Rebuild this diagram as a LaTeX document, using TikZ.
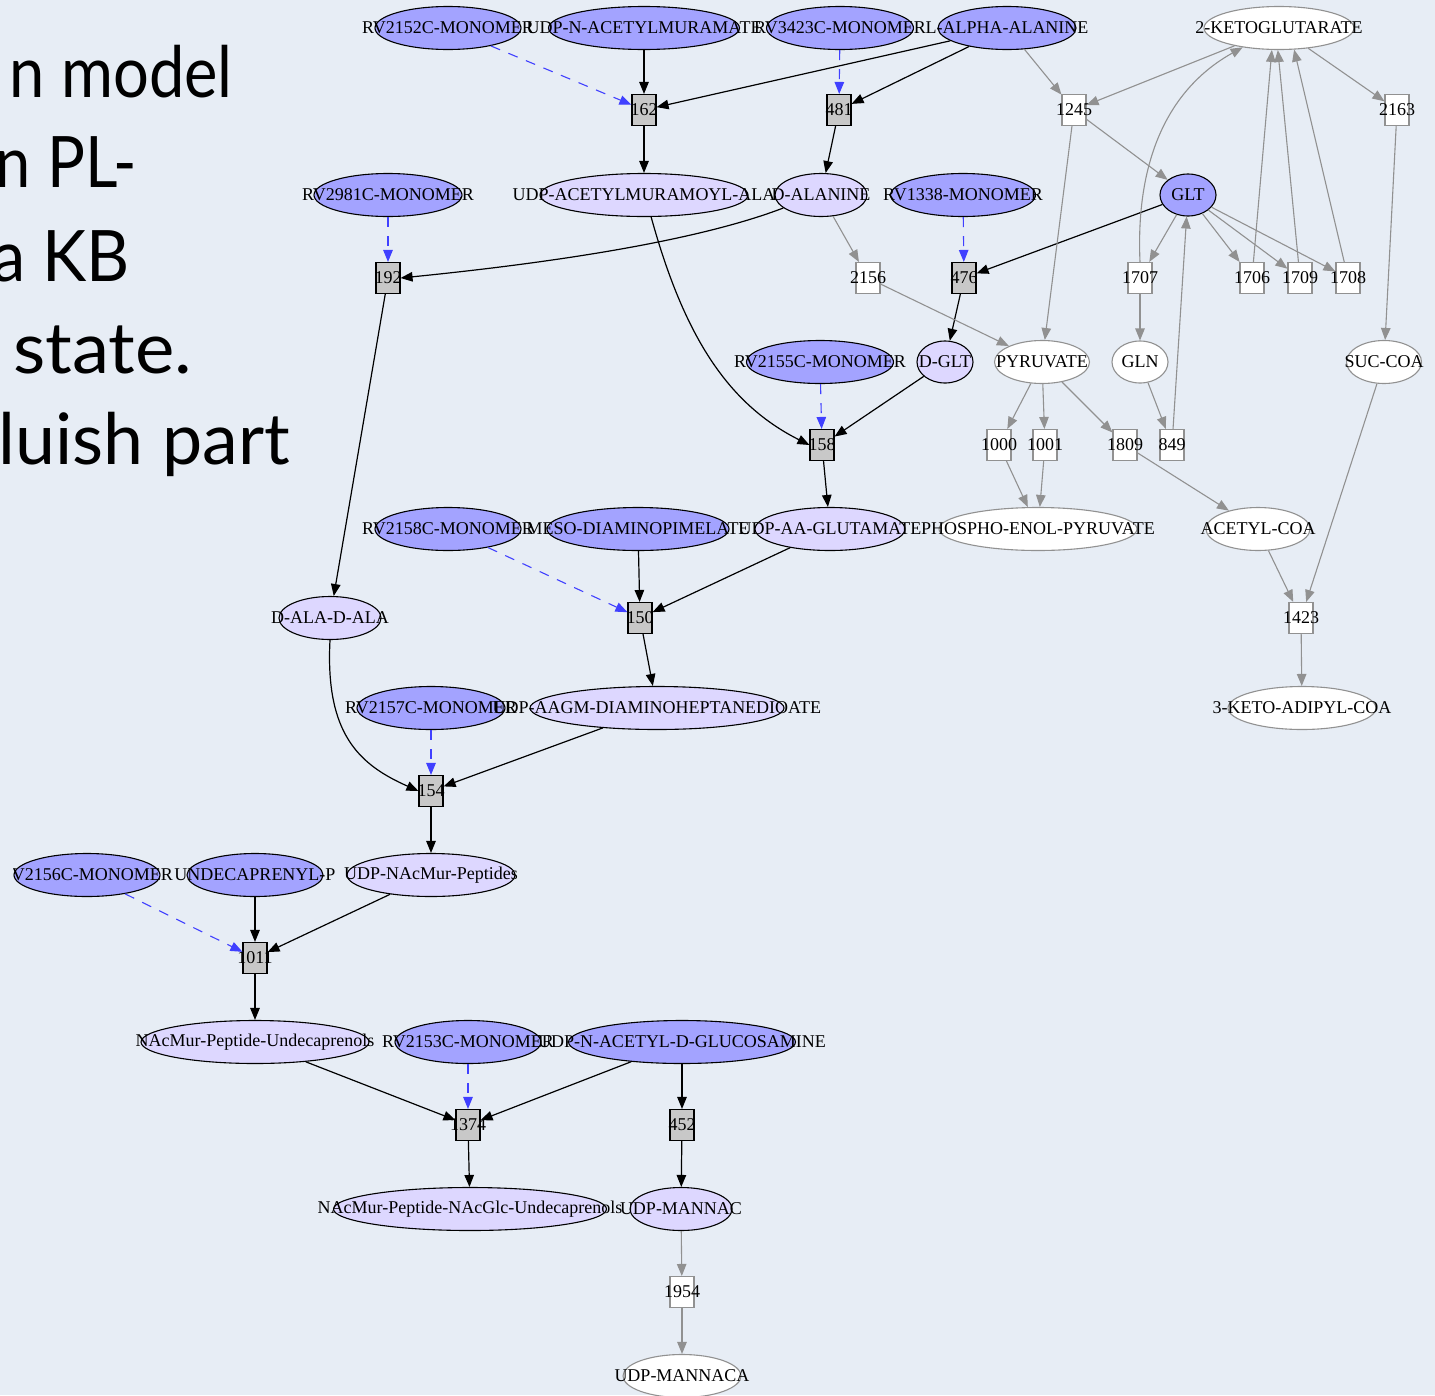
\documentclass[tikz,border=0pt]{standalone}
\usepackage{fontspec}
\setmainfont{Liberation Serif}
\newfontfamily\handfont{Lato}
\usetikzlibrary{shapes.geometric,arrows.meta}

\definecolor{paper}{RGB}{231,237,245}
\definecolor{enzfill}{RGB}{163,163,255}
\definecolor{metfill}{RGB}{221,215,255}
\definecolor{rxnfill}{RGB}{200,200,200}
\definecolor{enzedge}{RGB}{64,64,255}
\definecolor{sideedge}{RGB}{145,145,145}

\tikzset{
  lbl/.style={font=\fontsize{18}{20}\selectfont, inner sep=0pt},
  nm/.style={label={[lbl]center:#1}},
  cpd/.style={ellipse, draw=black, line width=1.1pt, minimum height=43pt, inner sep=0pt},
  enz/.style={cpd, fill=enzfill},
  met/.style={cpd, fill=metfill},
  ext/.style={cpd, draw=sideedge, fill=white},
  rxn/.style={rectangle, draw=black, line width=1.1pt, fill=rxnfill,
              minimum width=24pt, minimum height=31pt, inner sep=0pt},
  xrx/.style={rxn, draw=sideedge, fill=white},
  tip/.style={-{Triangle[length=12pt,width=9.5pt]}},
  flow/.style={draw=black, line width=1.2pt, tip},
  cat/.style={draw=enzedge, line width=1.1pt, dash pattern=on 10pt off 9pt, tip},
  side/.style={draw=sideedge, line width=1.1pt, tip},
  hand/.style={inner sep=0pt, font=\handfont\fontsize{71}{71}\selectfont},
}

\begin{document}
\begin{tikzpicture}[x=1pt,y=-1pt]
\useasboundingbox (0,0) rectangle (1435,1395);
\fill[paper] (0,0) rectangle (1435,1395);
\clip (0,0) rectangle (1435,1395);

% slide text on the left
\node[hand, anchor=base east] (t1) at (233,97) {\scalebox{0.89}[1]{n model}};
\node[hand, anchor=base east] (t2) at (137,187) {\scalebox{0.89}[1]{n PL-}};
\node[hand, anchor=base east] (t3) at (130,281) {\scalebox{0.94}[1]{a KB}};
\node[hand, anchor=base west] (t4) at (13,373) {\scalebox{1.05}[1]{state.}};
\node[hand, anchor=base east] (t5) at (290,464) {\scalebox{1.01}[1]{luish part}};

\begin{scope}
\clip (13,0) rectangle (1435,1395);

% ---- compounds, enzymes and reactions ----
\node[enz, minimum width=146pt, nm=RV2152C-MONOMER] (rv2152) at (448,28) {};
\node[enz, minimum width=191pt, nm=UDP-N-ACETYLMURAMATE] (umur) at (644,28) {};
\node[enz, minimum width=147pt, nm=RV3423C-MONOMER] (rv3423) at (840,28) {};
\node[enz, minimum width=138pt, nm=L-ALPHA-ALANINE] (lala) at (1007,28) {};
\node[ext, minimum width=150pt, nm=2-KETOGLUTARATE] (k2) at (1279,28) {};

\node[rxn, nm=162] (r162) at (644,110) {};
\node[rxn, nm=481] (r481) at (839,110) {};
\node[xrx, nm=1245] (r1245) at (1074,110) {};
\node[xrx, nm=2163] (r2163) at (1397,110) {};

\node[enz, minimum width=148pt, nm=RV2981C-MONOMER] (rv2981) at (388,195) {};
\node[met, minimum width=208pt, nm=UDP-ACETYLMURAMOYL-ALA] (uacm) at (644,195) {};
\node[met, minimum width=92pt, nm=D-ALANINE] (dala) at (821,195) {};
\node[enz, minimum width=145pt, nm=RV1338-MONOMER] (rv1338) at (963,195) {};
\node[enz, minimum width=56pt, minimum height=42pt, nm=GLT] (glt) at (1188,195) {};

\node[rxn, nm=192] (r192) at (388,278) {};
\node[xrx, nm=2156] (r2156) at (868,278) {};
\node[rxn, nm=476] (r476) at (964,278) {};
\node[xrx, nm=1707] (r1707) at (1140,278) {};
\node[xrx, nm=1706] (r1706) at (1252,278) {};
\node[xrx, nm=1709] (r1709) at (1300,278) {};
\node[xrx, nm=1708] (r1708) at (1348,278) {};

\node[enz, minimum width=147pt, nm=RV2155C-MONOMER] (rv2155) at (820,362) {};
\node[met, minimum width=56pt, minimum height=42pt, nm=D-GLT] (dglt) at (945,362) {};
\node[ext, minimum width=95pt, nm=PYRUVATE] (pyr) at (1042,362) {};
\node[ext, minimum width=56pt, minimum height=42pt, nm=GLN] (gln) at (1140,362) {};
\node[ext, minimum width=75pt, nm=SUC-COA] (suc) at (1384,362) {};

\node[rxn, nm=158] (r158) at (822,445) {};
\node[xrx, nm=1000] (r1000) at (999,445) {};
\node[xrx, nm=1001] (r1001) at (1045,445) {};
\node[xrx, nm=1809] (r1809) at (1125,445) {};
\node[xrx, nm=849] (r849) at (1172,445) {};

\node[enz, minimum width=146pt, nm=RV2158C-MONOMER] (rv2158) at (448,529) {};
\node[enz, minimum width=182pt, nm=MESO-DIAMINOPIMELATE] (meso) at (638,529) {};
\node[met, minimum width=150pt, nm=UDP-AA-GLUTAMATE] (uaag) at (830,529) {};
\node[ext, minimum width=198pt, nm=PHOSPHO-ENOL-PYRUVATE] (pep) at (1038,529) {};
\node[ext, minimum width=104pt, nm=ACETYL-COA] (acoa) at (1258,529) {};

\node[met, minimum width=102pt, nm=D-ALA-D-ALA] (dala2) at (330,618) {};
\node[rxn, nm=150] (r150) at (640,618) {};
\node[xrx, nm=1423] (r1423) at (1301,618) {};

\node[enz, minimum width=148pt, nm=RV2157C-MONOMER] (rv2157) at (431,708) {};
\node[met, minimum width=254pt, nm=UDP-AAGM-DIAMINOHEPTANEDIOATE] (uaagm) at (657,708) {};
\node[ext, minimum width=148pt, nm=3-KETO-ADIPYL-COA] (kac) at (1302,708) {};

\node[rxn, nm=154] (r154) at (431,791) {};

\node[enz, minimum width=146pt, nm=RV2156C-MONOMER] (rv2156) at (87,875) {};
\node[enz, minimum width=136pt, nm=UNDECAPRENYL-P] (undp) at (255,875) {};
\node[met, minimum width=168pt, nm=UDP-NAcMur-Peptides] (unmp) at (431,875) {};

\node[rxn, nm=1011] (r1011) at (255,958) {};

\node[met, minimum width=228pt, nm=NAcMur-Peptide-Undecaprenols] (nmpu) at (255,1042) {};
\node[enz, minimum width=146pt, nm=RV2153C-MONOMER] (rv2153) at (468,1042) {};
\node[enz, minimum width=227pt, nm=UDP-N-ACETYL-D-GLUCOSAMINE] (udgl) at (682,1042) {};

\node[rxn, nm=1374] (r1374) at (468,1125) {};
\node[rxn, nm=452] (r452) at (682,1125) {};

\node[met, minimum width=273pt, nm=NAcMur-Peptide-NAcGlc-Undecaprenols] (nmpng) at (470,1209) {};
\node[met, minimum width=102pt, nm=UDP-MANNAC] (umnc) at (681,1209) {};

\node[xrx, nm=1954] (r1954) at (682,1292) {};
\node[ext, minimum width=118pt, nm=UDP-MANNACA] (umnca) at (682,1376) {};

% ---- substrate / product flow ----
\draw[flow] (umur) -- (r162);
\draw[flow] (lala) -- (r162);
\draw[flow] (lala) -- (r481);
\draw[flow] (r162) -- (uacm);
\draw[flow] (r481) -- (dala);
\draw[flow] (dala.199) .. controls (700,240) and (560,262) .. (r192.east);
\draw[flow] (uacm.-72) .. controls (685,340) and (730,405) .. (r158.west);
\draw[flow] (glt) -- (r476);
\draw[flow] (r476) -- (dglt);
\draw[flow] (dglt) -- (r158);
\draw[flow] (r158) -- (uaag);
\draw[flow] (r192) -- (dala2);
\draw[flow] (meso) -- (r150);
\draw[flow] (uaag) -- (r150);
\draw[flow] (r150) -- (uaagm);
\draw[flow] (dala2.south) .. controls (325,735) and (360,765) .. (r154.west);
\draw[flow] (uaagm) -- (r154);
\draw[flow] (r154) -- (unmp);
\draw[flow] (undp) -- (r1011);
\draw[flow] (unmp) -- (r1011);
\draw[flow] (r1011) -- (nmpu);
\draw[flow] (nmpu) -- (r1374);
\draw[flow] (udgl) -- (r1374);
\draw[flow] (udgl) -- (r452);
\draw[flow] (r1374) -- (nmpng);
\draw[flow] (r452) -- (umnc);

% ---- catalysis ----
\draw[cat] (rv2152) -- (r162);
\draw[cat] (rv3423) -- (r481);
\draw[cat] (rv2981) -- (r192);
\draw[cat] (rv1338) -- (r476);
\draw[cat] (rv2155) -- (r158);
\draw[cat] (rv2158) -- (r150);
\draw[cat] (rv2157) -- (r154);
\draw[cat] (rv2156) -- (r1011);
\draw[cat] (rv2153) -- (r1374);

% ---- surrounding metabolism ----
\draw[side] (lala) -- (r1245);
\draw[side] (k2) -- (r1245);
\draw[side] (k2) -- (r2163);
\draw[side] (r1245) -- (glt);
\draw[side] (r1245) -- (pyr);
\draw[side] (r2163) -- (suc);
\draw[side] (dala) -- (r2156);
\draw[side] (r2156) -- (pyr);
\draw[side] (glt) -- (r1707);
\draw[side] (glt) -- (r1706);
\draw[side] (glt) -- (r1709);
\draw[side] (glt) -- (r1708);
\draw[side] (r1707.north) .. controls (1135,150) and (1175,85) .. (k2.208);
\draw[side] (r1706) -- (k2.-108);
\draw[side] (r1709) -- (k2.-93);
\draw[side] (r1708) -- (k2.-55);
\draw[side] (r1707) -- (gln);
\draw[side] (gln) -- (r849);
\draw[side] (r849) -- (glt);
\draw[side] (pyr) -- (r1000);
\draw[side] (pyr) -- (r1001);
\draw[side] (pyr) -- (r1809);
\draw[side] (r1000) -- (pep);
\draw[side] (r1001) -- (pep);
\draw[side] (r1809) -- (acoa);
\draw[side] (acoa) -- (r1423);
\draw[side] (suc) -- (r1423);
\draw[side] (r1423) -- (kac);
\draw[side] (umnc) -- (r1954);
\draw[side] (r1954) -- (umnca);
\end{scope}
\end{tikzpicture}
\end{document}
